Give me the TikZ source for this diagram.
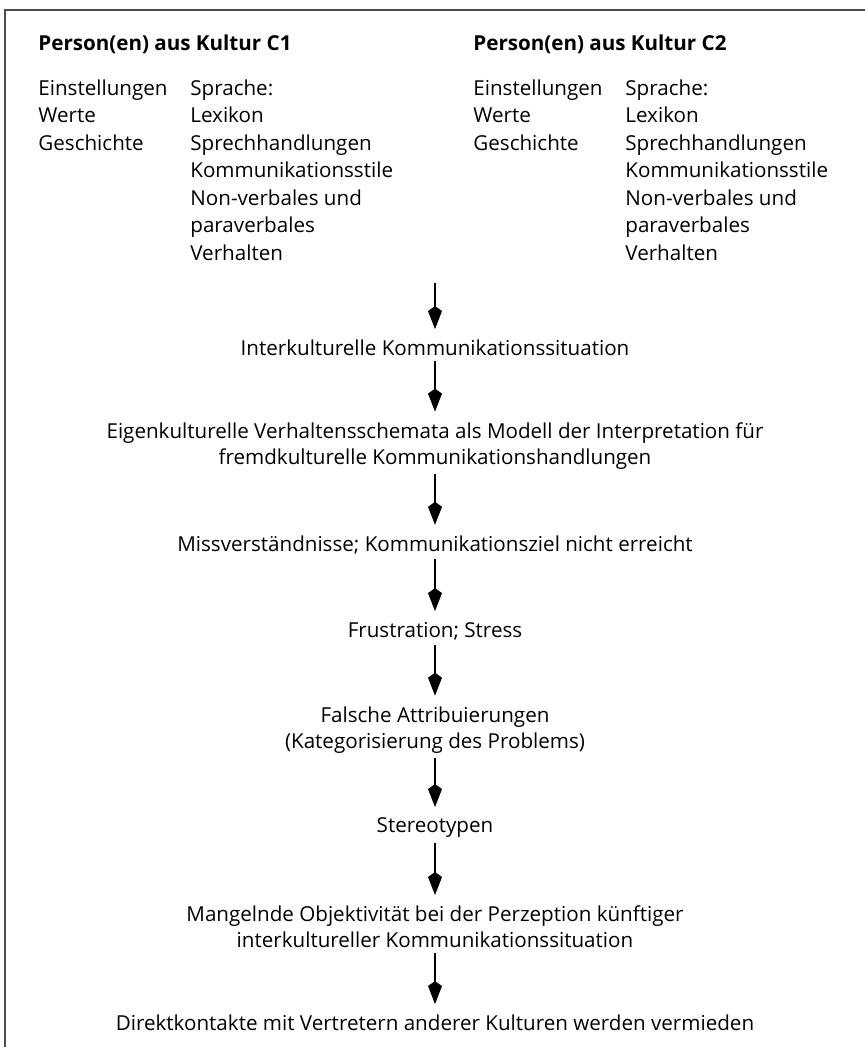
\documentclass[tikz,border=0pt]{standalone}
\usepackage{fontspec}
\setmainfont{Open Sans}
\usetikzlibrary{arrows.meta}

\begin{document}
\begin{tikzpicture}[x=0.5pt, y=-0.5pt,
  >={Kite[length=11.5pt, width=7pt, inset=2.5pt]},
  txt/.style={align=center, inner sep=2.5pt, outer sep=0pt, font=\fontsize{10.3}{13}\selectfont},
  col/.style={anchor=north west, align=left, inner sep=0pt, font=\fontsize{10.3}{13.75}\selectfont},
  head/.style={anchor=west, inner sep=0pt, font=\fontsize{10.3}{12}\selectfont\bfseries},
  flow/.style={->, line width=0.65pt, shorten >=3pt}]
\useasboundingbox (0,0) rectangle (865,1047);
% frame, only top and left edge
\draw[line width=0.75pt, black!70] (865,10) -- (5,10) -- (5,1047);
% culture C1
\node[head] (headA) at (38,44) {Person(en) aus Kultur C1};
\node[col] (valA) at (38,79) {Einstellungen\\Werte\\Geschichte};
\node[col] (langA) at (190,79) {Sprache:\\Lexikon\\Sprechhandlungen\\Kommunikationsstile\\Non-verbales und\\paraverbales\\Verhalten};
% culture C2
\node[head] (headB) at (473,44) {Person(en) aus Kultur C2};
\node[col] (valB) at (473,79) {Einstellungen\\Werte\\Geschichte};
\node[col] (langB) at (625,79) {Sprache:\\Lexikon\\Sprechhandlungen\\Kommunikationsstile\\Non-verbales und\\paraverbales\\Verhalten};
% chain
\coordinate (start) at (435,283);
\node[txt] (situation) at (435,348) {Interkulturelle Kommunikationssituation};
\node[txt] (schema) at (435,446) {Eigenkulturelle Verhaltensschemata als Modell der Interpretation f\"ur\\fremdkulturelle Kommunikationshandlungen};
\node[txt] (miss) at (435,545) {Missverst\"andnisse; Kommunikationsziel nicht erreicht};
\node[txt] (frust) at (435,631) {Frustration; Stress};
\node[txt] (attrib) at (435,730) {Falsche Attribuierungen\\(Kategorisierung des Problems)};
\node[txt] (stereo) at (435,828) {Stereotypen};
\node[txt] (percep) at (435,927) {Mangelnde Objektivit\"at bei der Perzeption k\"unftiger\\interkultureller Kommunikationssituation};
\node[txt] (avoid) at (435,1023) {Direktkontakte mit Vertretern anderer Kulturen werden vermieden};
\draw[flow] (start) -- (situation);
\draw[flow] (situation) -- (schema);
\draw[flow] (schema) -- (miss);
\draw[flow] (miss) -- (frust);
\draw[flow] (frust) -- (attrib);
\draw[flow] (attrib) -- (stereo);
\draw[flow] (stereo) -- (percep);
\draw[flow] (percep) -- (avoid);
\end{tikzpicture}
\end{document}
